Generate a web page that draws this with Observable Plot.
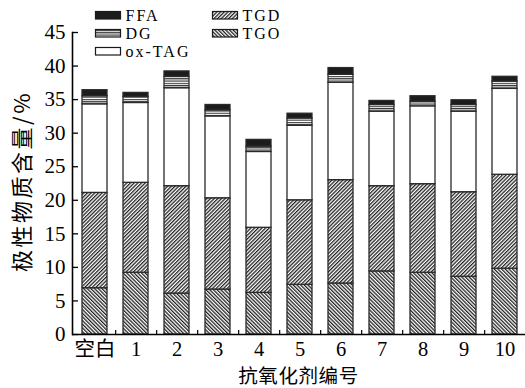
<!DOCTYPE html>
<html><head><meta charset="utf-8">
<script src="https://cdn.jsdelivr.net/npm/d3@7"></script>
<script src="https://cdn.jsdelivr.net/npm/@observablehq/plot@0.6"></script>
<style>
html,body{margin:0;padding:0;background:#fff;}
#wrap{position:relative;width:525px;height:388px;overflow:hidden;}
#xtitle{position:absolute;left:72px;width:453px;top:359.5px;text-align:center;
  font-family:'Noto Sans CJK SC',sans-serif;font-size:19.5px;line-height:normal;color:#000;white-space:nowrap;letter-spacing:0.6px;}
</style></head><body><div id="wrap"><div id="chart"></div><div id="xtitle"></div></div>
<script>
// ---- data ----
const categories = ["空白","1","2","3","4","5","6","7","8","9","10"];
const series = ["TGO","TGD","ox-TAG","DG","FFA"];
const TGO   = [6.9, 9.2, 6.1, 6.7, 6.2, 7.4, 7.6, 9.4, 9.2, 8.6, 9.8];
const TGD   = [14.2,13.4,16.0,13.6, 9.7,12.6,15.4,12.7,13.2,12.6,14.0];
const oxTAG = [13.2,11.9,14.6,12.2,11.3,11.1,14.5,11.1,11.6,12.0,12.8];
const DG    = [1.2, 0.9, 1.7, 0.9, 0.8, 1.1, 1.2, 1.0, 0.7, 1.0, 1.1];
const FFA   = [0.9, 0.6, 0.8, 0.8, 1.0, 0.7, 1.0, 0.6, 0.8, 0.7, 0.7];
const yTicks = [0,5,10,15,20,25,30,35,40,45];
const xTitle = "抗氧化剂编号";
const yTitle = "极性物质含量/%";
const legendCol1 = ["FFA","DG","ox-TAG"];
const legendCol2 = ["TGD","TGO"];

const valuesBySeries = {"TGO":TGO,"TGD":TGD,"ox-TAG":oxTAG,"DG":DG,"FFA":FFA};
const rows = [];
categories.forEach((c,i)=>series.forEach(s=>rows.push({cat:c, series:s, value:valuesBySeries[s][i]})));

const fills = {"TGO":"url(#pat-TGO)","TGD":"url(#pat-TGD)","ox-TAG":"#ffffff","DG":"url(#pat-DG)","FFA":"#1c1c1c"};

const xRange = [72, 526], pIn = 0.395, pOut = 0.19;
const step = (xRange[1]-xRange[0])/(categories.length - pIn + 2*pOut);
const serif = "'Liberation Serif','Times New Roman','Noto Sans CJK SC',serif";
const cjk = "'Noto Sans CJK SC',sans-serif";

const plot = Plot.plot({
  width: 525, height: 388,
  marginLeft: 72, marginRight: 0, marginTop: 32, marginBottom: 54,
  style: {fontFamily: serif, fontSize: "20px", background: "#fff", color: "#000", overflow: "visible", display: "block"},
  x: {domain: categories, range: xRange, paddingInner: pIn, paddingOuter: pOut, axis: null},
  y: {domain: [0,45], axis: null},
  color: {type: "ordinal", domain: series, range: series.map(s=>fills[s])},
  marks: [
    Plot.barY(rows, {x: "cat", y: "value", fill: "series", stroke: "#2a2a2a", strokeWidth: 1.3}),
    Plot.axisX({tickSize: 0, tickPadding: 7, fontSize: 20.5, label: null}),
    Plot.ruleX(categories.slice(0,-1), {x: d=>d, dx: step/2, y1: 0, y2: 0.6, stroke: "#000", strokeWidth: 1.2}),
    Plot.axisY({ticks: yTicks, tickSize: 0, tickPadding: 7, fontSize: 21, label: null}),
    Plot.axisY({ticks: yTicks, tickSize: -6, tickFormat: () => "", label: null, strokeWidth: 1.3}),
    Plot.frame({anchor: "left", strokeWidth: 1.6}),
    Plot.ruleY([0], {strokeWidth: 1.6}),
    Plot.text([yTitle], {frameAnchor: "left", dx: -50, dy: -2, rotate: -90, textAnchor: "middle", lineAnchor: "middle", fontSize: 22, fontFamily: cjk, className: "ytitle"})
  ]
});

const svg = d3.select(plot);
svg.selectAll(".ytitle text").attr("letter-spacing", "2.5px");
const defs = svg.insert("defs", ":first-child");
function diag(id, angle){
  const p = defs.append("pattern").attr("id", id).attr("patternUnits","userSpaceOnUse")
    .attr("width", 2.6).attr("height", 2.6).attr("patternTransform", `rotate(${angle})`);
  p.append("rect").attr("width", 2.6).attr("height", 2.6).attr("fill", "#fff");
  p.append("line").attr("x1", 0.65).attr("x2", 0.65).attr("y1", 0).attr("y2", 2.6)
    .attr("stroke", "#1a1a1a").attr("stroke-width", 1.25);
}
diag("pat-TGO", -45);
diag("pat-TGD", 45);
const pd = defs.append("pattern").attr("id","pat-DG").attr("patternUnits","userSpaceOnUse")
  .attr("width", 4).attr("height", 2.3);
pd.append("rect").attr("width", 4).attr("height", 2.3).attr("fill", "#fff");
pd.append("line").attr("x1", 0).attr("x2", 4).attr("y1", 0.6).attr("y2", 0.6)
  .attr("stroke", "#2a2a2a").attr("stroke-width", 1.1);

// legend (inside plot, top-left)
const lg = svg.append("g").attr("font-family", serif).attr("font-size", 16)
  .attr("letter-spacing", "2px").attr("text-anchor", "start");
function item(name, x, y){
  lg.append("rect").attr("x", x).attr("y", y).attr("width", 25).attr("height", 7.5)
    .attr("fill", fills[name]).attr("stroke", "#1a1a1a").attr("stroke-width", 1.2);
  lg.append("text").attr("x", x + 30).attr("y", y + 9).attr("fill", "#000")
    .attr("text-anchor", "start").text(name);
}
legendCol1.forEach((n,i)=>item(n, 95.5, 11.5 + i*18));
legendCol2.forEach((n,i)=>item(n, 212.5, 11.5 + i*18));

document.getElementById("chart").appendChild(plot);
document.getElementById("xtitle").textContent = xTitle;
</script>
</body></html>
